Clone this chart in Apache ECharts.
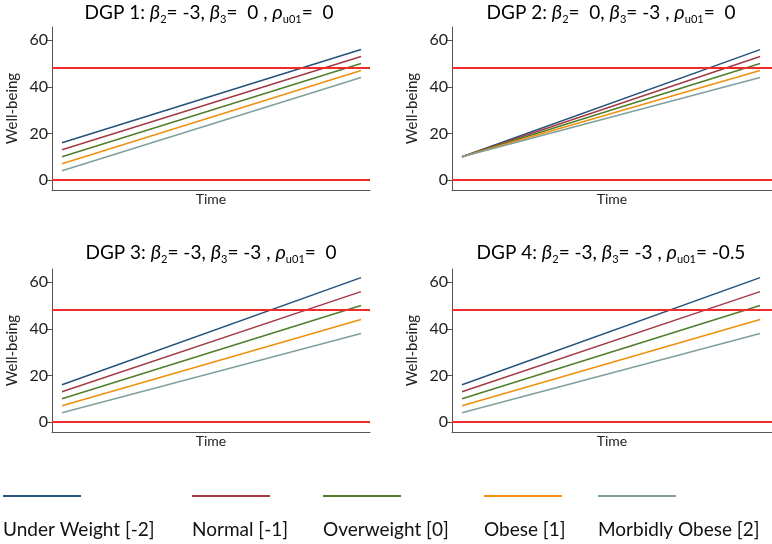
<!DOCTYPE html>
<html>
<head>
<meta charset="utf-8">
<script src="https://cdn.jsdelivr.net/npm/echarts@6/dist/echarts.min.js"></script>
<style>
html,body{margin:0;padding:0;background:#fff;}
#chart{width:772px;height:544px;}
</style>
</head>
<body>
<div id="chart"></div>
<script>
// ---- data ----
const categories = ['Under Weight [-2]', 'Normal [-1]', 'Overweight [0]', 'Obese [1]', 'Morbidly Obese [2]'];
const timePoints = [0, 10];
const dgp1Start = [16, 13, 10, 7, 4];
const dgp1End   = [56, 53, 50, 47, 44];
const dgp2Start = [10, 10, 10, 10, 10];
const dgp2End   = [56, 53, 50, 47, 44];
const dgp3Start = [16, 13, 10, 7, 4];
const dgp3End   = [62, 56, 50, 44, 38];
const dgp4Start = [16, 13, 10, 7, 4];
const dgp4End   = [62, 56, 50, 44, 38];
const thresholds = [0, 48];
const yTicks = [0, 20, 40, 60];
const titles = [
  '{n|DGP 1: }{i|β}{s|2}{n|= -3, }{i|β}{s|3}{n|=  0 , }{i|ρ}{s|u01}{n|=  0}',
  '{n|DGP 2: }{i|β}{s|2}{n|=  0, }{i|β}{s|3}{n|= -3 , }{i|ρ}{s|u01}{n|=  0}',
  '{n|DGP 3: }{i|β}{s|2}{n|= -3, }{i|β}{s|3}{n|= -3 , }{i|ρ}{s|u01}{n|=  0}',
  '{n|DGP 4: }{i|β}{s|2}{n|= -3, }{i|β}{s|3}{n|= -3 , }{i|ρ}{s|u01}{n|= -0.5}'
];
const yName = 'Well-being';
const xName = 'Time';

// ---- styles / layout ----
const colors = ['#24527a', '#a33a45', '#4f7d2b', '#f0900c', '#7f9f9f'];
const redColor = '#f22a2a';
const FONT = 'Lato';
const panels = [
  {start: dgp1Start, end: dgp1End, grid: {left: 52, top: 27, width: 318, height: 163}, xmin: -0.334, xmax: 10.30, tx: 209, ty: 13},
  {start: dgp2Start, end: dgp2End, grid: {left: 452, top: 27, width: 320, height: 163}, xmin: -0.336, xmax: 10.40, tx: 611, ty: 13},
  {start: dgp3Start, end: dgp3End, grid: {left: 52, top: 269, width: 318, height: 163}, xmin: -0.334, xmax: 10.30, tx: 211, ty: 253},
  {start: dgp4Start, end: dgp4End, grid: {left: 452, top: 269, width: 320, height: 163}, xmin: -0.336, xmax: 10.40, tx: 611, ty: 253}
];

const grid = [], xAxis = [], yAxis = [], series = [], graphic = [];
panels.forEach((p, gi) => {
  grid.push(p.grid);
  xAxis.push({
    type: 'value', gridIndex: gi, min: p.xmin, max: p.xmax,
    name: xName, nameLocation: 'middle', nameGap: 2,
    nameTextStyle: {fontFamily: FONT, fontSize: 14, color: '#222', verticalAlign: 'top'},
    axisLine: {show: true, onZero: false, lineStyle: {color: '#555', width: 1}},
    axisTick: {show: false}, axisLabel: {show: false}, splitLine: {show: false}
  });
  yAxis.push({
    type: 'value', gridIndex: gi, min: -4.3, max: 65.7,
    name: yName, nameLocation: 'middle', nameGap: 32,
    nameTextStyle: {fontFamily: FONT, fontSize: 15, color: '#222'},
    axisLine: {show: true, onZero: false, lineStyle: {color: '#555', width: 1}},
    axisTick: {show: true, length: 6, customValues: yTicks, lineStyle: {color: '#555'}},
    axisLabel: {customValues: yTicks, margin: 4, fontFamily: FONT, fontSize: 16, color: '#222'},
    splitLine: {show: false}
  });
  categories.forEach((c, ci) => {
    const s = {
      name: c, type: 'line', xAxisIndex: gi, yAxisIndex: gi,
      data: timePoints.map((t, k) => [t, k === 0 ? p.start[ci] : p.end[ci]]),
      symbol: 'none', lineStyle: {color: colors[ci], width: 1.5},
      itemStyle: {color: colors[ci]}, silent: true, animation: false, z: 2
    };
    if (ci === categories.length - 1) {
      s.markLine = {
        silent: true, symbol: 'none', label: {show: false},
        lineStyle: {color: redColor, width: 2, type: 'solid'},
        data: thresholds.map(v => ({yAxis: v})), animation: false, z: 5
      };
    }
    series.push(s);
  });
  graphic.push({
    type: 'text', x: p.tx, y: p.ty,
    style: {
      text: titles[gi], align: 'center', verticalAlign: 'middle',
      rich: {
        n: {fontFamily: FONT, fontSize: 19, color: '#111', lineHeight: 26, verticalAlign: 'bottom', height: 26},
        i: {fontFamily: FONT, fontSize: 20, fontStyle: 'italic', color: '#111', lineHeight: 26, verticalAlign: 'bottom', height: 26},
        s: {fontFamily: FONT, fontSize: 11, color: '#111', lineHeight: 14, verticalAlign: 'bottom', height: 14}
      }
    }
  });
});

// legend (lines above labels)
const legendX = [3, 192, 323, 484, 598];
categories.forEach((c, ci) => {
  graphic.push({type: 'line', shape: {x1: legendX[ci], y1: 496, x2: legendX[ci] + 78, y2: 496},
    style: {stroke: colors[ci], lineWidth: 2}});
  graphic.push({type: 'text', x: legendX[ci], y: 530,
    style: {text: c, fontFamily: FONT, fontSize: 19, fill: '#111', verticalAlign: 'middle', align: 'left'}});
});

const chart = echarts.init(document.getElementById('chart'), null, {renderer: 'canvas'});
chart.setOption({
  animation: false,
  backgroundColor: '#fff',
  grid, xAxis, yAxis, series, graphic
});
</script>
</body>
</html>
